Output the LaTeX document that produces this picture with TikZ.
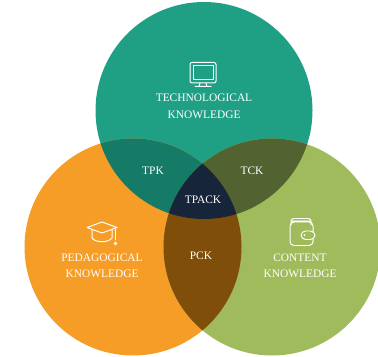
\documentclass[tikz,border=0pt]{standalone}
\usepackage{fontspec}
\setmainfont{Liberation Serif}
\definecolor{techgreen}{HTML}{1FA084}
\definecolor{pedorange}{HTML}{F59D27}
\definecolor{contgreen}{HTML}{9FBB5C}
\definecolor{tpkcol}{HTML}{157A66}
\definecolor{tckcol}{HTML}{526230}
\definecolor{pckcol}{HTML}{7F4E08}
\definecolor{tpackcol}{HTML}{16253A}
\tikzset{
    label/.style={text=white, align=center, font=\fontsize{8.6}{12.4}\selectfont},
    icon/.style={draw=white, line width=0.75pt, line join=round, line cap=round}
}
\begin{document}
\begin{tikzpicture}[x=0.02646cm, y=-0.02646cm]
            % Define the circles (picture measured in pixels)
            \def\rad{108.5}
            \def\techc{(204,110.5) circle (\rad)}
            \def\pedc{(133,247) circle (\rad)}
            \def\contc{(272,247) circle (\rad)}
            \useasboundingbox (0,0) rectangle (378,357);
            \clip (0,0) rectangle (378,357);

            % Draw the three circles
            \fill[techgreen] \techc;
            \fill[pedorange] \pedc;
            \fill[contgreen] \contc;

            % Draw the overlaps
            \begin{scope}
                \clip \techc;
                \fill[tpkcol] \pedc;
                \fill[tckcol] \contc;
            \end{scope}
            \begin{scope}
                \clip \pedc;
                \fill[pckcol] \contc;
                \clip \contc;
                \fill[tpackcol] \techc;
            \end{scope}

            % Labels
            \node[label] (tech) at (204,106.5) {TECHNOLOGICAL\\KNOWLEDGE};
            \node[label] (ped) at (102,266) {PEDAGOGICAL\\KNOWLEDGE};
            \node[label] (cont) at (300,266) {CONTENT\\KNOWLEDGE};
            \node[label] (tpk) at (153,171) {TPK};
            \node[label] (tck) at (252,171) {TCK};
            \node[label] (tpack) at (203,200) {TPACK};
            \node[label] (pck) at (201,256) {PCK};

            % Monitor icon
            \draw[icon, rounded corners=1.5pt] (190,62.5) rectangle (216,83);
            \draw[icon, line width=0.5pt] (193,65.5) rectangle (213,79);
            \draw[icon] (200,83) -- (199,86.5) (206,83) -- (207,86.5) (195,86.5) -- (211,86.5);

            % Graduation cap icon
            \draw[icon] (102,222) -- (117,227.5) -- (102,233) -- (87,227.5) -- cycle;
            \draw[icon] (92,230) -- (92,238) .. controls (96,243) and (108,243) .. (112,238) -- (112,230);
            \draw[icon, line width=0.6pt] (115.5,229) -- (115.5,240);
            \fill[white] (115.5,243.5) circle (1.8);

            % Wallet icon
            \draw[icon, rounded corners=3pt] (290,222) rectangle (313,245.5);
            \draw[icon, rounded corners=2pt] (291,225) -- (291,218.5) -- (311,218.5) -- (311,225);
            \draw[icon, line width=0.5pt] (292,221.5) -- (310,221.5);
            \fill[white, opacity=0.45] (292,219.5) rectangle (310,221.5);
            \draw[icon, fill=contgreen, rounded corners=3.5pt] (301,231) rectangle (315,239.5);
            \fill[white] (304.5,235.2) circle (1);
\end{tikzpicture}
\end{document}
